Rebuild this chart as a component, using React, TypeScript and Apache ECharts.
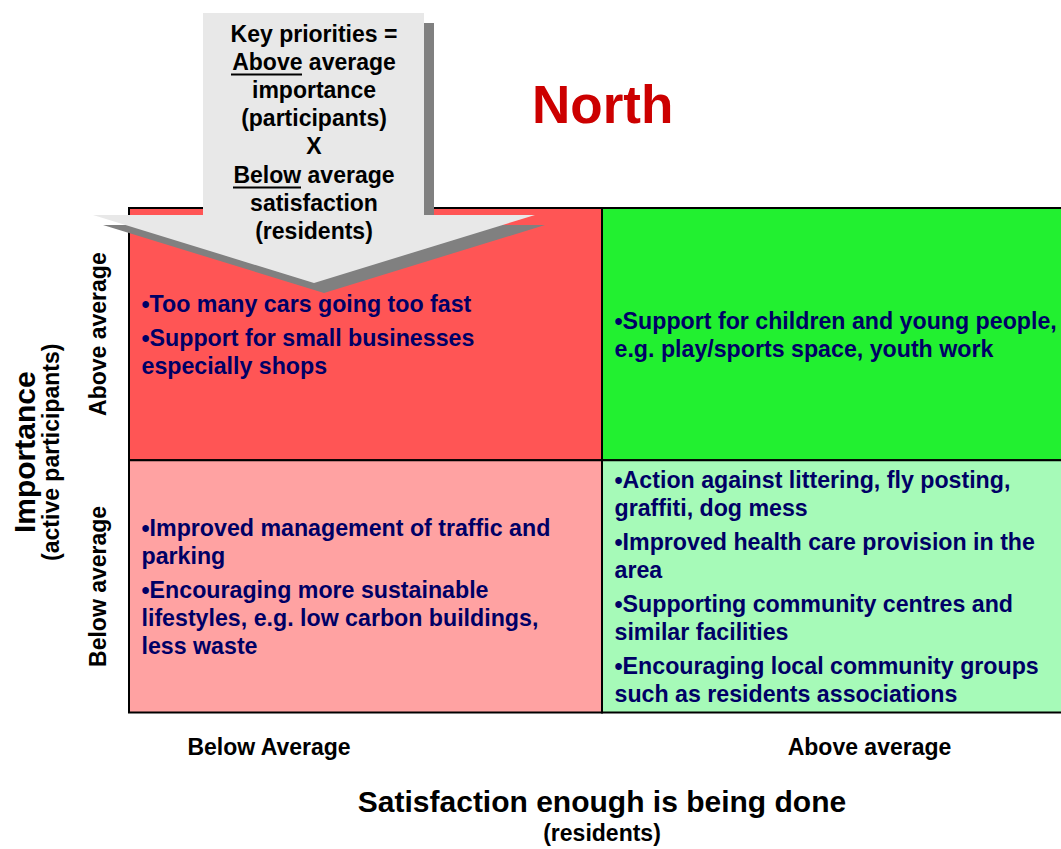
import React, { useEffect, useRef } from "react";
import * as echarts from "echarts";

const FONT = '"Liberation Sans", Arial, Helvetica, sans-serif';

const satisfactionLevels = ["Below Average", "Above average"];
const importanceLevels = ["Below average", "Above average"];
// [satisfaction index, importance index]
const quadrantCells = [
  [0, 1],
  [1, 1],
  [0, 0],
  [1, 0],
];
const quadrantColors = ["#FF5555", "#22F030", "#FFA2A2", "#A6FAB8"];
const quadrantItems = [
  ["•Too many cars going too fast", "•Support for small businesses\nespecially shops"],
  ["•Support for children and young people,\ne.g. play/sports space, youth work"],
  [
    "•Improved management of traffic and\nparking",
    "•Encouraging more sustainable\nlifestyles, e.g. low carbon buildings,\nless waste",
  ],
  [
    "•Action against littering, fly posting,\ngraffiti, dog mess",
    "•Improved health care provision in the\narea",
    "•Supporting community centres and\nsimilar facilities",
    "•Encouraging local community groups\nsuch as residents associations",
  ],
];
const arrowLines = [
  "Key priorities =",
  "Above average",
  "importance",
  "(participants)",
  "X",
  "Below average",
  "satisfaction",
  "(residents)",
];
const titleText = "North";
const xAxisTitle = "Satisfaction enough is being done";
const xAxisSubtitle = "(residents)";
const yAxisTitle = "Importance";
const yAxisSubtitle = "(active participants)";

export default function App() {
  const ref = useRef<HTMLDivElement>(null);
  useEffect(() => {
    if (!ref.current) return;
    const chart = echarts.init(ref.current, undefined, { renderer: "svg" });
    const LH = 28;
    const GAP = 6;
    const arrowShape = [
      [203, 13],
      [424, 13],
      [424, 215],
      [535, 215],
      [314, 283],
      [93, 215],
      [203, 215],
    ];
    const option: any = {
      animation: false,
      backgroundColor: "#ffffff",
      textStyle: { fontFamily: FONT },
      grid: { left: 129, top: 208, right: 0, bottom: 130 },
      xAxis: {
        type: "category",
        data: satisfactionLevels,
        axisLine: { show: false },
        axisTick: { show: false },
        splitLine: { show: false },
        axisLabel: {
          interval: 0,
          margin: 23,
          formatter: (v: string, i: number) => (i === 0 ? `{l|${v}}` : `{r|${v}}`),
          rich: {
            l: { fontFamily: FONT, fontSize: 23, fontWeight: "bold", color: "#000", padding: [0, 193, 0, 0] },
            r: { fontFamily: FONT, fontSize: 23, fontWeight: "bold", color: "#000", padding: [0, 0, 0, 62] },
          },
        },
        name: `{a|${xAxisTitle}}\n{b|${xAxisSubtitle}}`,
        nameLocation: "middle",
        nameGap: 72,
        nameTextStyle: {
          rich: {
            a: { fontFamily: FONT, fontSize: 30, fontWeight: "bold", color: "#000", lineHeight: 34, align: "center" },
            b: { fontFamily: FONT, fontSize: 23, fontWeight: "bold", color: "#000", lineHeight: 28, align: "center" },
          },
        },
      },
      yAxis: {
        type: "category",
        data: importanceLevels,
        axisLine: { show: false },
        axisTick: { show: false },
        splitLine: { show: false },
        axisLabel: {
          rotate: 90,
          margin: 20,
          fontFamily: FONT,
          fontSize: 23,
          fontWeight: "bold",
          color: "#000",
        },
        name: `{a|${yAxisTitle}}\n{b|${yAxisSubtitle}}`,
        nameLocation: "middle",
        nameRotate: 90,
        nameGap: 66,
        nameTextStyle: {
          rich: {
            a: { fontFamily: FONT, fontSize: 30, fontWeight: "bold", color: "#000", lineHeight: 30, padding: [0, 0, 0, 16] },
            b: { fontFamily: FONT, fontSize: 23, fontWeight: "bold", color: "#000", lineHeight: 24, padding: [0, 0, 0, 16] },
          },
        },
      },
      series: [
        {
          type: "custom",
          coordinateSystem: "cartesian2d",
          encode: { x: 0, y: 1 },
          data: quadrantCells.map((c, i) => ({ value: c, itemStyle: { color: quadrantColors[i] } })),
          renderItem: (params: any, api: any) => {
            const c = api.coord([api.value(0), api.value(1)]);
            const s = api.size([1, 1]);
            const x0 = c[0] - s[0] / 2;
            const y0 = c[1] - s[1] / 2;
            const items = quadrantItems[params.dataIndex];
            const counts = items.map((t) => t.split("\n").length);
            const total = counts.reduce((a, b) => a + b, 0) * LH + (items.length - 1) * GAP;
            let y = c[1] - total / 2 + 1;
            const children: any[] = [
              {
                type: "rect",
                shape: { x: x0, y: y0, width: s[0], height: s[1] },
                style: { fill: quadrantColors[params.dataIndex], stroke: "#000", lineWidth: 2 },
              },
            ];
            items.forEach((t, k) => {
              children.push({
                type: "text",
                x: x0 + 12.5,
                y,
                style: {
                  text: t,
                  fill: "#000066",
                  font: `bold 23.2px ${FONT}`,
                  lineHeight: LH,
                  textAlign: "left",
                  textVerticalAlign: "top",
                },
              });
              y += counts[k] * LH + GAP;
            });
            return { type: "group", children };
          },
        },
      ],
      graphic: [
        {
          type: "text",
          x: 532,
          y: 104,
          style: {
            text: titleText,
            fill: "#CC0000",
            font: `bold 53px ${FONT}`,
            textAlign: "left",
            textVerticalAlign: "middle",
          },
        },
        {
          type: "polygon",
          z: 100,
          shape: { points: arrowShape.map((p) => [p[0] + 10, p[1] + 10]) },
          style: { fill: "#808080" },
        },
        {
          type: "polygon",
          z: 101,
          shape: { points: arrowShape },
          style: { fill: "#E8E8E8" },
        },
        {
          type: "text",
          z: 102,
          x: 314,
          y: 20,
          style: {
            text: arrowLines.join("\n"),
            fill: "#000",
            font: `bold 23px ${FONT}`,
            lineHeight: 28.1,
            textAlign: "center",
            textVerticalAlign: "top",
          },
        },
        {
          type: "line",
          z: 102,
          shape: { x1: 231, y1: 74.5, x2: 302, y2: 74.5 },
          style: { stroke: "#000", lineWidth: 2 },
        },
        {
          type: "line",
          z: 102,
          shape: { x1: 233, y1: 187.5, x2: 301, y2: 187.5 },
          style: { stroke: "#000", lineWidth: 2 },
        },
      ],
    };
    chart.setOption(option);
    return () => chart.dispose();
  }, []);
  return (
    <div style={{ position: "fixed", left: 0, top: 0, width: 1061, height: 849, overflow: "hidden", background: "#fff" }}>
      <div ref={ref} style={{ position: "absolute", left: 0, top: 0, width: 1075, height: 849 }} />
    </div>
  );
}
